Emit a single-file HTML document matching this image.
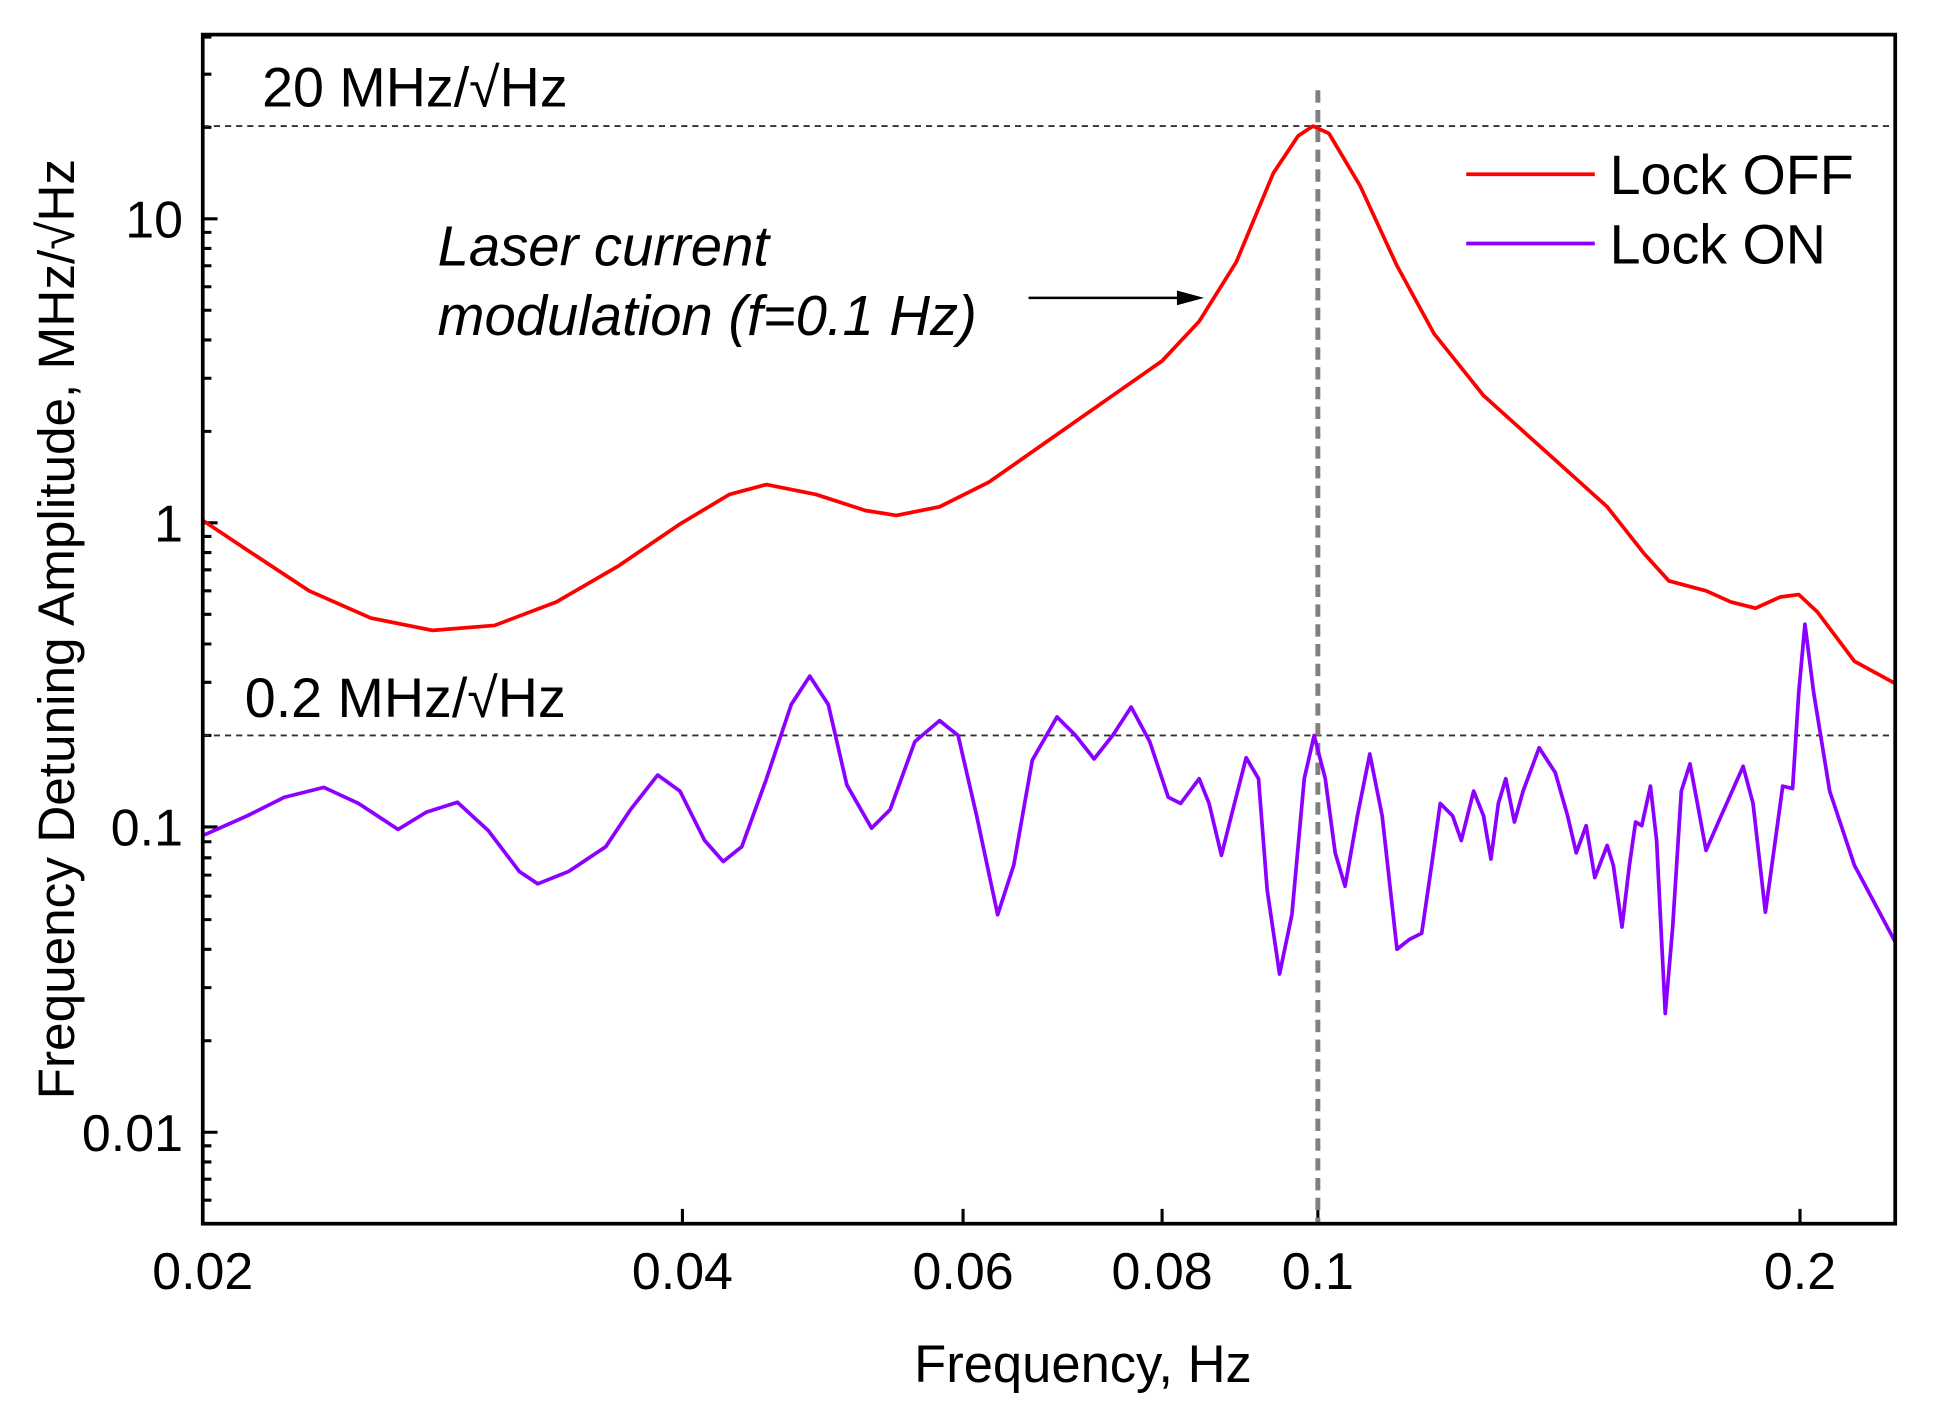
<!DOCTYPE html>
<html><head><meta charset="utf-8"><style>html,body{margin:0;padding:0;background:#fff}svg{display:block}</style></head>
<body>
<svg width="1936" height="1419" viewBox="0 0 1566 1148" preserveAspectRatio="none" xmlns="http://www.w3.org/2000/svg" font-family="Liberation Sans, Arial, sans-serif">
<rect width="1566" height="1148" fill="#fff"/>
<path fill="none" stroke="#000" stroke-width="2.5" d="
M164,177h12M164,423h12M164,669h12M164,916h12
M164,971h7M164,954h7M164,940h7M164,927h7
M164,842h7M164,799h7M164,768h7M164,744h7M164,725h7M164,708h7M164,694h7M164,681h7
M164,595h7M164,552h7M164,521h7M164,497h7M164,478h7M164,461h7M164,447h7M164,434h7
M164,349h7M164,306h7M164,275h7M164,251h7M164,232h7M164,215h7M164,201h7M164,188h7
M164,103h7M164,60h7M164,30h7
M552,990v-12M779,990v-12M940,990v-12M1066,990v-12M1456,990v-12"/>
<line x1="164" y1="102" x2="1533" y2="102" stroke="#333" stroke-width="1.5" stroke-dasharray="5,4"/>
<line x1="164" y1="595" x2="1533" y2="595" stroke="#333" stroke-width="1.5" stroke-dasharray="5,4"/>
<line x1="1066" y1="73" x2="1066" y2="990" stroke="#808080" stroke-width="4" stroke-dasharray="10,6"/>
<polyline fill="none" stroke="#ff0000" stroke-width="3" stroke-linejoin="round" points="164,421 200,445 250,478 300,500 350,510 400,506 450,487 500,458 550,424 590,400 620,392 660,400 700,413 725,417 760,410 800,390 850,355 900,320 940,292 970,260 1000,212 1030,140 1050,110 1062,102 1075,108 1100,150 1130,215 1160,270 1200,320 1250,365 1300,410 1330,448 1350,470 1380,478 1400,487 1420,492 1440,483 1455,481 1470,495 1500,535 1533,553"/>
<polyline fill="none" stroke="#8b00ff" stroke-width="3" stroke-linejoin="round" points="164,676 200,660 230,645 262,637 290,650 322,671 345,657 370,649 395,672 420,705 435,715 460,705 490,685 510,655 532,627 550,640 570,680 585,697 600,685 620,630 640,570 655,547 670,570 685,635 705,670 720,655 740,600 760,583 775,595 790,660 807,740 820,700 835,615 855,580 870,595 885,614 900,595 915,572 930,600 945,645 955,650 970,630 978,650 988,692 996,660 1008,613 1018,630 1025,720 1035,788 1045,740 1055,630 1063,595 1072,630 1080,690 1088,717 1098,660 1108,610 1118,660 1130,768 1140,760 1150,755 1158,700 1165,650 1175,660 1182,680 1192,640 1200,660 1206,695 1212,650 1218,630 1225,665 1232,640 1245,605 1258,625 1268,660 1275,690 1283,668 1290,710 1300,684 1305,700 1312,750 1318,700 1323,665 1328,668 1335,636 1340,680 1347,820 1353,750 1360,640 1367,618 1373,650 1380,688 1390,665 1410,620 1418,650 1428,738 1436,680 1442,636 1450,638 1455,560 1460,505 1467,560 1480,640 1500,700 1533,762"/>
<rect x="164" y="28" width="1369" height="962" fill="none" stroke="#000" stroke-width="3"/>
<g font-size="42" fill="#000">
<text x="148" y="192" text-anchor="end">10</text>
<text x="148" y="438" text-anchor="end">1</text>
<text x="148" y="684" text-anchor="end">0.1</text>
<text x="148" y="931" text-anchor="end">0.01</text>
<text x="164" y="1043" text-anchor="middle">0.02</text>
<text x="552" y="1043" text-anchor="middle">0.04</text>
<text x="779" y="1043" text-anchor="middle">0.06</text>
<text x="940" y="1043" text-anchor="middle">0.08</text>
<text x="1066" y="1043" text-anchor="middle">0.1</text>
<text x="1456" y="1043" text-anchor="middle">0.2</text>
</g>
<text x="876" y="1118" font-size="42.5" text-anchor="middle">Frequency, Hz</text>
<text transform="translate(60,509) rotate(-90)" font-size="41.5" text-anchor="middle">Frequency Detuning Amplitude, MHz/√Hz</text>
<text x="212" y="86" font-size="45">20 MHz/√Hz</text>
<text x="198" y="580" font-size="45">0.2 MHz/√Hz</text>
<text x="354" y="215" font-size="45.5" font-style="italic">Laser current</text>
<text x="354" y="271" font-size="45.5" font-style="italic">modulation (f=0.1 Hz)</text>
<line x1="832" y1="241" x2="958" y2="241" stroke="#000" stroke-width="2"/>
<polygon points="974,241 952,235 952,247" fill="#000"/>
<line x1="1186" y1="141" x2="1290" y2="141" stroke="#ff0000" stroke-width="3"/>
<line x1="1186" y1="197" x2="1290" y2="197" stroke="#8b00ff" stroke-width="3"/>
<text x="1302" y="157" font-size="45">Lock OFF</text>
<text x="1302" y="213" font-size="45">Lock ON</text>
</svg>
</body></html>
